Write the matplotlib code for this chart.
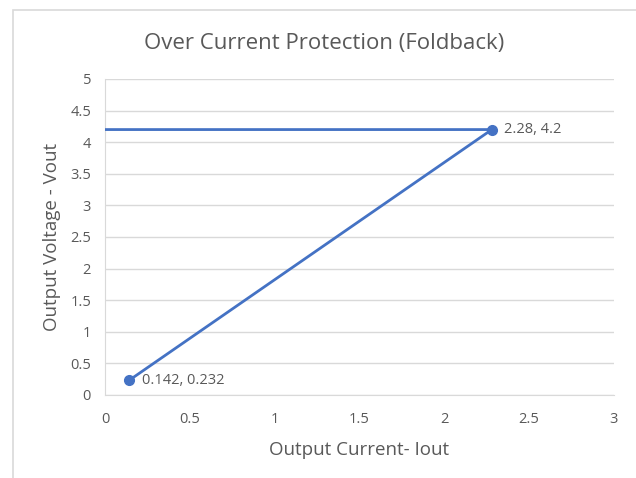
import matplotlib.pyplot as plt
from matplotlib.patches import Rectangle

plt.rcParams['font.family'] = ['Open Sans', 'DejaVu Sans']

# foldback curve: limit voltage up to the knee, then fold back to short-circuit point
current = [0, 2.28, 0.142]
voltage = [4.2, 4.2, 0.232]
labelled = [1, 2]

xticks = [0, 0.5, 1, 1.5, 2, 2.5, 3]
yticks = [0, 0.5, 1, 1.5, 2, 2.5, 3, 3.5, 4, 4.5, 5]

text_color = '#595959'
grid_color = '#d9d9d9'
blue = '#4472c4'

W, H = 636, 478
fig = plt.figure(figsize=(W / 100, H / 100), dpi=100)

# chart frame
fig.patches.append(Rectangle((13 / W, -0.1), 1.2, (H - 10) / H + 0.1, transform=fig.transFigure,
                             fill=False, edgecolor=grid_color, linewidth=1.2))

ax = fig.add_axes([105 / W, 1 - 395 / H, (614 - 105) / W, (395 - 79) / H])
ax.set_xlim(0, 3)
ax.set_ylim(0, 5)
ax.set_xticks(xticks)
ax.set_yticks(yticks)
ax.set_xticklabels([f'{t:g}' for t in xticks])
ax.set_yticklabels([f'{t:g}' for t in yticks])
ax.grid(axis='y', color=grid_color, linewidth=1)
ax.set_axisbelow(True)
for side in ['top', 'right']:
    ax.spines[side].set_visible(False)
ax.spines['bottom'].set_color(grid_color)
ax.spines['left'].set_color(grid_color)
ax.tick_params(axis='x', pad=12)
ax.tick_params(axis='y', pad=10)
ax.tick_params(length=0, colors=text_color, labelsize=10.5)

ax.plot(current, voltage, color=blue, linewidth=2, zorder=3)
ax.plot([current[i] for i in labelled], [voltage[i] for i in labelled], 'o',
        color=blue, markersize=7, zorder=4)
for i in labelled:
    ax.annotate(f'{current[i]:g}, {voltage[i]:g}', (current[i], voltage[i]),
                xytext=(9, 0), textcoords='offset points', va='center',
                color=text_color, fontsize=10.5)

ax.set_xlabel('Output Current- Iout', color=text_color, fontsize=13.5, labelpad=10)
ax.set_ylabel('Output Voltage - Vout', color=text_color, fontsize=13.5, labelpad=7)
fig.text(324 / W, 1 - 43 / H, 'Over Current Protection (Foldback)', ha='center', va='center',
         color=text_color, fontsize=16)

fig.savefig('out.png', dpi=100)
